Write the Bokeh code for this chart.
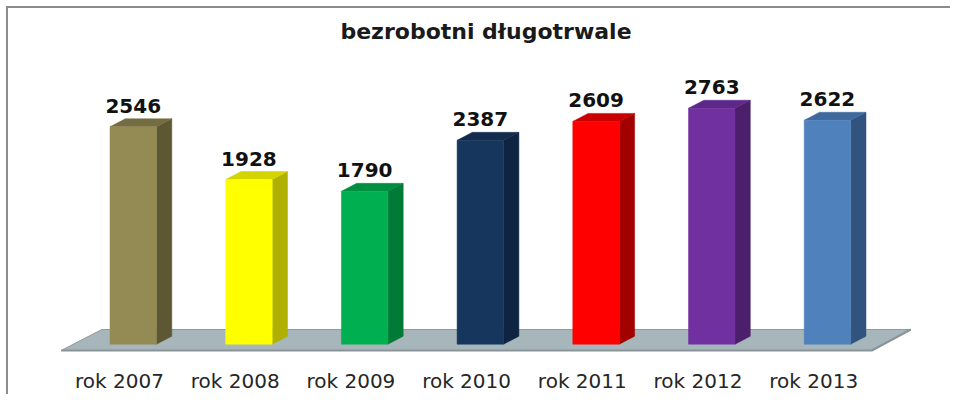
from bokeh.plotting import figure
from bokeh.models import Range1d, FixedTicker
from bokeh.core.properties import value
from bokeh.embed import file_html
from bokeh.resources import INLINE

# ---- data ----
years = ["rok 2007", "rok 2008", "rok 2009", "rok 2010", "rok 2011", "rok 2012", "rok 2013"]
counts = [2546, 1928, 1790, 2387, 2609, 2763, 2622]
front_colors = ["#948A54", "#FFFF00", "#00B050", "#17365D", "#FF0000", "#7030A0", "#4F81BD"]
side_colors = ["#5E5734", "#B0B000", "#007A36", "#0F2440", "#A30000", "#4B1F6C", "#31547E"]
top_colors = ["#746C42", "#D4D400", "#008F40", "#132C4E", "#C80000", "#5D2887", "#3F6A9E"]
title_text = "bezrobotni długotrwale"

# ---- layout constants (pixels) ----
W, H = 944, 388
BOTTOM = 38
FH = H - BOTTOM
CAT_PX = 115.7          # pixels per category
VAL_PX = 0.0854         # pixels per unit of value
X0_PX = 111.0           # canvas x of first category tick
Y0_PX = 335.7           # canvas y (from top) of value zero

def px_x(dx):
    return dx / CAT_PX

def px_y(dy):
    return dy / VAL_PX

x_start = -X0_PX / CAT_PX
x_end = (W - X0_PX) / CAT_PX
zero_above_bottom = FH - Y0_PX
y_start = -zero_above_bottom / VAL_PX
y_end = (FH - zero_above_bottom) / VAL_PX

p = figure(width=W, height=H, output_backend="svg", toolbar_location=None,
           x_range=Range1d(x_start, x_end), y_range=Range1d(y_start, y_end),
           min_border_left=0, min_border_right=0, min_border_top=0,
           min_border_bottom=BOTTOM, outline_line_color=None,
           background_fill_color=None, border_fill_color=None)
p.styles = {"margin-left": "6px", "margin-top": "6px",
            "border-left": "2px solid #8C8C8C", "border-top": "2px solid #8C8C8C",
            "border-right": "0px none", "border-bottom": "0px none"}
p.grid.visible = False
p.yaxis.visible = False

# floor
floor_front_y = px_y(-6.3)
floor_back_y = px_y(14.7)
fl = [px_x(-58.3), px_x(752.3), px_x(791.3), px_x(-17.7)]
fy = [floor_front_y, floor_front_y, floor_back_y, floor_back_y]
p.patch(fl, fy, fill_color="#A7B6BB", line_color="#8E9A9F", line_width=1)
p.line([fl[0], fl[1], fl[2]], [fy[0], fy[1], fy[2]], line_color="#8A9498", line_width=2)

# bars
off_l = px_x(-9.5)
bw = px_x(46.5)
dx = px_x(15.3)
dy = px_y(8.0)
lefts = [i + off_l for i in range(len(counts))]
rights = [l + bw for l in lefts]

side_xs = [[r, r + dx, r + dx, r] for r in rights]
side_ys = [[0, dy, v + dy, v] for v in counts]
top_xs = [[l, r, r + dx, l + dx] for l, r in zip(lefts, rights)]
top_ys = [[v, v, v + dy, v + dy] for v in counts]

p.patches(side_xs, side_ys, fill_color=side_colors, line_color=side_colors, line_width=0.5)
p.patches(top_xs, top_ys, fill_color=top_colors, line_color=top_colors, line_width=0.5)
p.quad(left=lefts, right=rights, bottom=0, top=counts, fill_color=front_colors,
       line_color=front_colors, line_width=0.5)

# value labels
centers = [(l + r) / 2 for l, r in zip(lefts, rights)]
p.text(x=centers, y=[v + dy for v in counts], text=[str(v) for v in counts],
       text_align="center", text_baseline="alphabetic", y_offset=-13,
       text_font=value("DejaVu Sans"), text_font_style="bold",
       text_font_size="20px", text_color="#111111")

# title
p.text(x=[px_x(477.5 - X0_PX)], y=[px_y(Y0_PX - 23)], text=[title_text],
       text_align="center", text_baseline="middle",
       text_font=value("DejaVu Sans"), text_font_style="bold",
       text_font_size="22px", text_color="#1A1A1A")

# x axis
ax = p.xaxis[0]
ax.ticker = FixedTicker(ticks=list(range(len(years))))
ax.major_label_overrides = {i: y for i, y in enumerate(years)}
ax.axis_line_color = None
ax.major_tick_line_color = None
ax.minor_tick_line_color = None
ax.major_label_standoff = 4
ax.major_label_text_font = "DejaVu Sans"
ax.major_label_text_font_size = "20px"
ax.major_label_text_color = "#262626"

open("out.html", "w").write(file_html(p, INLINE))
